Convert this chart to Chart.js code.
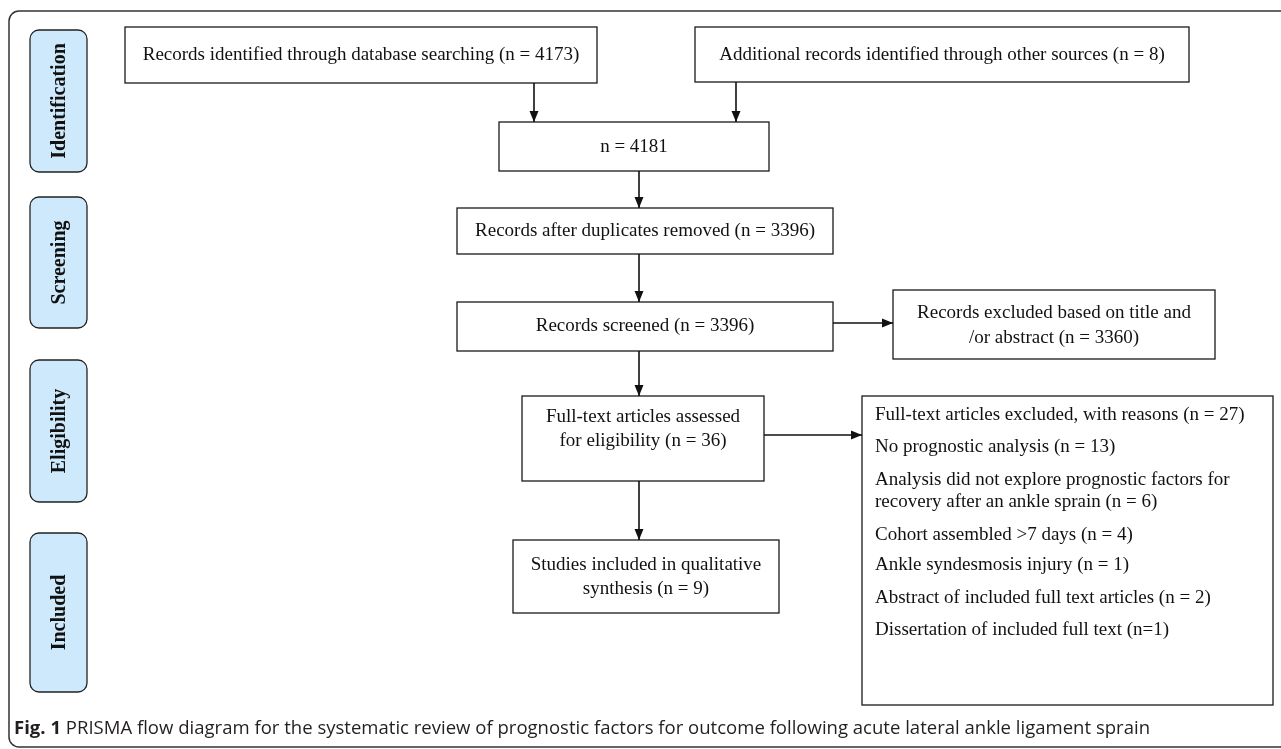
<!DOCTYPE html>
<html>
<head>
<meta charset="utf-8">
<script src="https://cdn.jsdelivr.net/npm/chart.js@4"></script>
<style>
html, body { margin: 0; padding: 0; background: #fff; }
#wrap { position: relative; width: 1281px; height: 749px; }
</style>
</head>
<body>
<div id="wrap"><canvas id="myChart"></canvas></div>
<script>
// stages on the left
var phases = ['Identification', 'Screening', 'Eligibility', 'Included'];

// record boxes, {n} gets the count
var recordText = [
    'Records identified through database searching (n = {n})',
    'Additional records identified through other sources (n = {n})',
    'n = {n}',
    'Records after duplicates removed (n = {n})',
    'Records screened (n = {n})',
    'Records excluded based on title and\n/or abstract (n = {n})',
    'Full-text articles assessed\nfor eligibility (n = {n})',
    'Full-text articles excluded, with reasons (n = {n})',
    'Studies included in qualitative\nsynthesis (n = {n})'
];
var recordCounts = [4173, 8, 4181, 3396, 3396, 3360, 36, 27, 9];

// reasons for exclusion of full text
var reasonText = [
    'No prognostic analysis (n = {n})',
    'Analysis did not explore prognostic factors for\nrecovery after an ankle sprain (n = {n})',
    'Cohort assembled >7 days (n = {n})',
    'Ankle syndesmosis injury (n = {n})',
    'Abstract of included full text articles (n = {n})',
    'Dissertation of included full text (n={n})'
];
var reasonCounts = [13, 6, 4, 1, 2, 1];

var caption = ['Fig. 1', ' PRISMA flow diagram for the systematic review of prognostic factors for outcome following acute lateral ankle ligament sprain'];

// ---- layout (chart units = px) ----
var phaseBoxes = [[30, 87, 30, 172], [30, 87, 197, 328], [30, 87, 360, 502], [30, 87, 533, 692]];
var boxes = [
    {x0: 125, x1: 597, y0: 27, y1: 83, rows: [55]},
    {x0: 695, x1: 1189, y0: 27, y1: 82, rows: [55]},
    {x0: 499, x1: 769, y0: 122, y1: 171, rows: [147]},
    {x0: 457, x1: 833, y0: 208, y1: 254, rows: [231]},
    {x0: 457, x1: 833, y0: 302, y1: 351, rows: [326]},
    {x0: 893, x1: 1215, y0: 290, y1: 359, rows: [313, 338]},
    {x0: 522, x1: 764, y0: 396, y1: 481, rows: [417, 441]},
    {x0: 862, x1: 1273, y0: 396, y1: 705, left: 875, rows: [415, 447, 480, 502, 535, 565, 598, 630]},
    {x0: 513, x1: 779, y0: 540, y1: 613, rows: [565, 589]}
];
var links = [
    [534, 83, 534, 122],
    [736, 82, 736, 122],
    [639, 171, 639, 208],
    [639, 254, 639, 302],
    [833, 323, 893, 323],
    [639, 351, 639, 396],
    [764, 435, 862, 435],
    [639, 481, 639, 540]
];

var serif = '"Liberation Serif", "Times New Roman", serif';
var ink = '#1a1a1a';

function fill(t, n) { return t.replace('{n}', n); }

function boxLines(i) {
    var lines = fill(recordText[i], recordCounts[i]).split('\n');
    if (i == 7) {
        for (var k = 0; k < reasonText.length; k++) {
            lines = lines.concat(fill(reasonText[k], reasonCounts[k]).split('\n'));
        }
    }
    return lines;
}

var flowPlugin = {
    id: 'flow',
    beforeDatasetsDraw: function(chart) {
        var ctx = chart.ctx;
        var sx = chart.scales.x, sy = chart.scales.y;
        function X(v) { return sx.getPixelForValue(v); }
        function Y(v) { return sy.getPixelForValue(v); }

        ctx.save();
        // outer frame
        ctx.strokeStyle = '#333';
        ctx.lineWidth = 1.5;
        ctx.beginPath();
        ctx.roundRect(X(9), Y(11), X(1300) - X(9), Y(747) - Y(11), 10);
        ctx.stroke();

        // stage labels
        phaseBoxes.forEach(function(b, i) {
            ctx.fillStyle = '#cde9fb';
            ctx.strokeStyle = '#222';
            ctx.lineWidth = 1.3;
            ctx.beginPath();
            ctx.roundRect(X(b[0]), Y(b[2]), X(b[1]) - X(b[0]), Y(b[3]) - Y(b[2]), 9);
            ctx.fill();
            ctx.stroke();
            ctx.save();
            ctx.translate((X(b[0]) + X(b[1])) / 2, (Y(b[2]) + Y(b[3])) / 2);
            ctx.rotate(-Math.PI / 2);
            ctx.fillStyle = '#111';
            ctx.font = 'bold 20px ' + serif;
            ctx.textAlign = 'center';
            ctx.textBaseline = 'middle';
            ctx.fillText(phases[i], 0, 1);
            ctx.restore();
        });

        // record boxes
        ctx.font = '19px ' + serif;
        ctx.textBaseline = 'middle';
        boxes.forEach(function(b, i) {
            ctx.fillStyle = '#fff';
            ctx.strokeStyle = ink;
            ctx.lineWidth = 1.3;
            ctx.fillRect(X(b.x0), Y(b.y0), X(b.x1) - X(b.x0), Y(b.y1) - Y(b.y0));
            ctx.strokeRect(X(b.x0), Y(b.y0), X(b.x1) - X(b.x0), Y(b.y1) - Y(b.y0));
            ctx.fillStyle = '#111';
            var lines = boxLines(i);
            lines.forEach(function(t, k) {
                if (b.left) {
                    ctx.textAlign = 'left';
                    ctx.fillText(t, X(b.left), Y(b.rows[k]));
                } else {
                    ctx.textAlign = 'center';
                    ctx.fillText(t, (X(b.x0) + X(b.x1)) / 2, Y(b.rows[k]));
                }
            });
        });

        // caption
        ctx.fillStyle = '#231f20';
        ctx.textAlign = 'left';
        ctx.textBaseline = 'alphabetic';
        ctx.font = 'bold 18px "Open Sans", sans-serif';
        var w0 = ctx.measureText(caption[0]).width;
        ctx.font = '18px "Open Sans", sans-serif';
        var w1 = ctx.measureText(caption[1]).width;
        var k = (X(1150) - X(14)) / (w0 + w1);
        ctx.save();
        ctx.translate(X(14), Y(734));
        ctx.scale(k, 1);
        ctx.font = 'bold 18px "Open Sans", sans-serif';
        ctx.fillText(caption[0], 0, 0);
        ctx.font = '18px "Open Sans", sans-serif';
        ctx.fillText(caption[1], w0, 0);
        ctx.restore();
        ctx.restore();
    },
    afterDatasetsDraw: function(chart) {
        var ctx = chart.ctx;
        var sx = chart.scales.x, sy = chart.scales.y;
        ctx.save();
        ctx.fillStyle = '#111';
        links.forEach(function(l) {
            var x1 = sx.getPixelForValue(l[2]), y1 = sy.getPixelForValue(l[3]);
            var x0 = sx.getPixelForValue(l[0]), y0 = sy.getPixelForValue(l[1]);
            var a = Math.atan2(y1 - y0, x1 - x0);
            ctx.save();
            ctx.translate(x1, y1);
            ctx.rotate(a);
            ctx.beginPath();
            ctx.moveTo(0, 0);
            ctx.lineTo(-11, -4.5);
            ctx.lineTo(-11, 4.5);
            ctx.closePath();
            ctx.fill();
            ctx.restore();
        });
        ctx.restore();
    }
};

var ctx = document.getElementById('myChart').getContext('2d');
var chart = new Chart(ctx, {
    type: 'scatter',
    data: {
        datasets: links.map(function(l) {
            return {
                data: [{x: l[0], y: l[1]}, {x: l[2], y: l[3]}],
                showLine: true,
                borderColor: '#111',
                borderWidth: 1.6,
                pointRadius: 0
            };
        })
    },
    options: {
        responsive: true,
        maintainAspectRatio: false,
        animation: false,
        layout: { padding: 0 },
        plugins: { legend: { display: false }, tooltip: { enabled: false } },
        scales: {
            x: { type: 'linear', min: 0, max: 1281, display: false },
            y: { type: 'linear', min: 0, max: 749, reverse: true, display: false }
        }
    },
    plugins: [flowPlugin]
});
</script>
</body>
</html>
